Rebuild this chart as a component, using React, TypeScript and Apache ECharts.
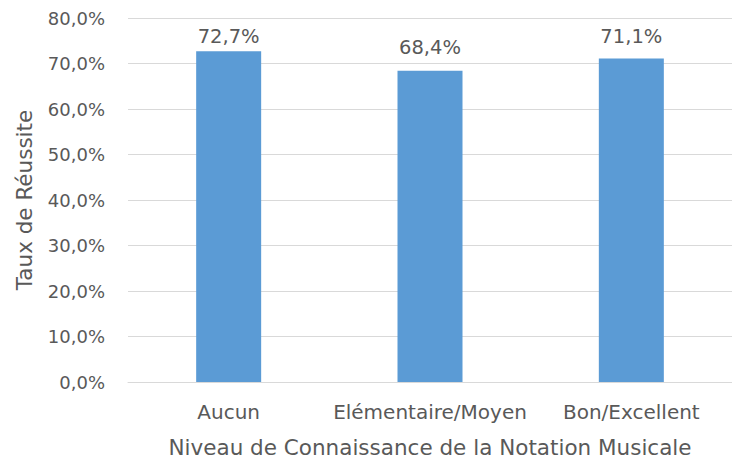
import React, { useEffect, useRef } from "react";
import * as echarts from "echarts";

const categories = ["Aucun", "Elémentaire/Moyen", "Bon/Excellent"];
const values = [72.7, 68.4, 71.1];
const yTicks = [0, 10, 20, 30, 40, 50, 60, 70, 80];

const fmt = (v: number) => v.toFixed(1).replace(".", ",") + "%";
const FONT = "'DejaVu Sans', 'Open Sans', sans-serif";
const TXT = "#595959";

export default function App() {
  const ref = useRef<HTMLDivElement>(null);
  useEffect(() => {
    if (!ref.current) return;
    const chart = echarts.init(ref.current, undefined, { renderer: "svg" });
    chart.setOption({
      animation: false,
      backgroundColor: "#ffffff",
      textStyle: { fontFamily: FONT },
      grid: { left: 128, top: 18, width: 614, height: 364 },
      xAxis: {
        type: "category",
        data: categories,
        axisTick: { show: false },
        axisLine: { lineStyle: { color: "#D9D9D9", width: 1 } },
        axisLabel: { color: TXT, fontSize: 20, margin: 20, interval: 0, fontFamily: FONT },
        name: "Niveau de Connaissance de la Notation Musicale",
        nameLocation: "middle",
        nameGap: 54,
        nameTextStyle: { color: TXT, fontSize: 21.5, fontFamily: FONT },
      },
      yAxis: {
        type: "value",
        min: yTicks[0],
        max: yTicks[yTicks.length - 1],
        interval: 10,
        axisLine: { show: false },
        axisTick: { show: false },
        splitLine: { lineStyle: { color: "#D9D9D9", width: 1 } },
        axisLabel: {
          color: TXT,
          fontSize: 18,
          margin: 23,
          fontFamily: FONT,
          formatter: (v: number) => fmt(v),
        },
        name: "Taux de Réussite",
        nameLocation: "middle",
        nameGap: 93,
        nameTextStyle: { color: TXT, fontSize: 21.5, fontFamily: FONT },
      },
      series: [
        {
          type: "bar",
          data: values,
          barWidth: 65,
          itemStyle: { color: "#5B9BD5" },
          label: {
            show: true,
            position: "top",
            distance: 13,
            color: TXT,
            fontSize: 19.5,
            fontFamily: FONT,
            formatter: (p: any) => fmt(p.value),
          },
          labelLayout: (p: any) => {
            const top = p.labelRect.y;
            const minTop = 26;
            return top < minTop ? { dy: minTop - top } : {};
          },
        },
      ],
    });
    return () => chart.dispose();
  }, []);
  return (
    <div
      ref={ref}
      style={{ position: "fixed", left: 0, top: 0, width: 732, height: 464, background: "#fff" }}
    />
  );
}
